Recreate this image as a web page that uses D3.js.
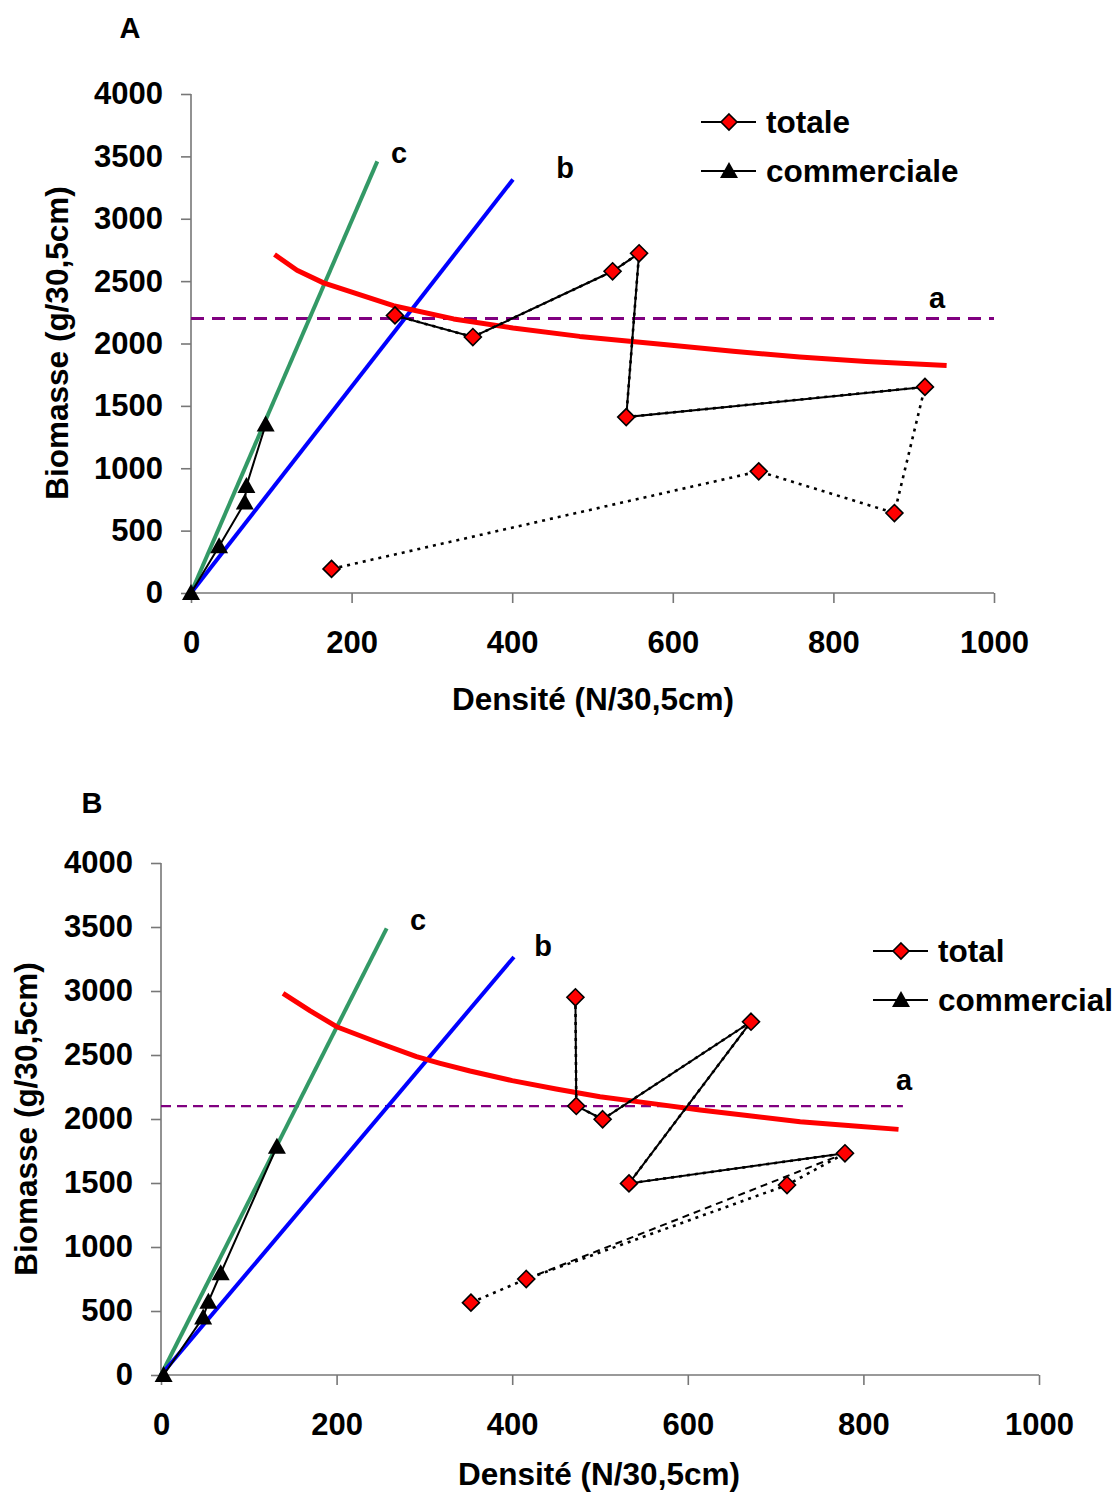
<!DOCTYPE html>
<html>
<head>
<meta charset="UTF-8">
<title>Biomasse / Densité</title>
<script src="https://cdn.jsdelivr.net/npm/d3@7"></script>
<style>
body { margin: 0; background: #fff; }
svg text { font-family: "Liberation Sans", Arial, sans-serif; font-weight: bold; fill: #000; }
</style>
</head>
<body>
<script>
// ---- data ----
var xTicks = [0, 200, 400, 600, 800, 1000];
var yTicks = [0, 500, 1000, 1500, 2000, 2500, 3000, 3500, 4000];

// panel A
var totA_x = [175, 707, 876, 914, 542, 558, 525, 351, 254];
var totA_y = [193, 975, 641, 1652, 1410, 2723, 2579, 2052, 2225];
var totA_solid = [3, 4, 5, 6, 7, 8];          // indices joined by the solid line
var comA_x = [0, 35, 67, 69, 93];
var comA_y = [0, 374, 725, 858, 1350];
var curveA_x = [104, 132, 165, 252, 327, 401, 484, 592, 675, 758, 841, 941];
var curveA_y = [2713, 2587, 2486, 2303, 2197, 2124, 2057, 1990, 1937, 1891, 1856, 1824];
var lineA_a = 2200;                 // horizontal line a
var lineA_b = [401, 3315];          // end of line b (from 0,0)
var lineA_c = [232, 3460];          // end of line c (from 0,0)

// panel B
var totB_x = [353, 416, 713, 779, 533, 672, 503, 473, 472];
var totB_y = [565, 750, 1484, 1732, 1497, 2760, 1998, 2102, 2951];
var totB_solid = [3, 4, 5, 6, 7, 8];
var totB_dash = [1, 3];
var comB_x = [3, 48, 54, 68, 132];
var comB_y = [0, 450, 573, 795, 1784];
var curveB_x = [139, 170, 200, 250, 291, 318, 352, 400, 450, 500, 560, 614, 670, 728, 790, 840];
var curveB_y = [2982, 2845, 2721, 2590, 2487, 2435, 2375, 2300, 2235, 2174, 2120, 2070, 2025, 1979, 1945, 1919];
var lineB_a = 2100;
var lineB_a_end = 845;
var lineB_b = [402, 3266];
var lineB_c = [257, 3490];

var svg = d3.select("body").append("svg")
    .attr("width", 1116)
    .attr("height", 1492);

function diamond(r){ return "M0," + (-r) + "L" + r + ",0L0," + r + "L" + (-r) + ",0Z"; }
function triangle(){ return "M0,-9L9,7L-9,7Z"; }

function draw_panel(p){
    var x = d3.scaleLinear().domain([0, 1000]).range([p.left, p.right]);
    var y = d3.scaleLinear().domain([0, 4000]).range([p.bottom, p.top]);
    var g = svg.append("g");

    // axes
    var ax = g.append("g").attr("transform", "translate(0," + p.bottom + ")")
        .call(d3.axisBottom(x).tickValues(xTicks).tickSize(10).tickPadding(28).tickFormat(d3.format("d")));
    var ay = g.append("g").attr("transform", "translate(" + p.left + ",0)")
        .call(d3.axisLeft(y).tickValues(yTicks).tickSize(10).tickPadding(18).tickFormat(d3.format("d")));
    [ax, ay].forEach(function(a){
        a.select(".domain").attr("stroke", "#777").attr("stroke-width", 1.6);
        a.selectAll(".tick line").attr("stroke", "#777").attr("stroke-width", 1.6);
        a.selectAll(".tick text").attr("font-size", 31).attr("font-family", null).attr("fill", "#000");
    });
    ax.selectAll(".domain").attr("d", "M" + p.left + ",0H" + p.right);
    ay.selectAll(".domain").attr("d", "M0," + p.bottom + "V" + p.top);

    // titles
    g.append("text").attr("x", p.xTitle[0]).attr("y", p.xTitle[1]).attr("dy", "0.35em")
        .attr("text-anchor", "middle").attr("font-size", 31.5).text("Densité (N/30,5cm)");
    g.append("text").attr("transform", "translate(" + p.yTitle[0] + "," + p.yTitle[1] + ") rotate(-90)")
        .attr("dy", "0.35em").attr("text-anchor", "middle").attr("font-size", 31.5).text("Biomasse (g/30,5cm)");
    g.append("text").attr("x", p.letter[0]).attr("y", p.letter[1]).attr("dy", "0.35em")
        .attr("text-anchor", "middle").attr("font-size", 29).text(p.name);

    // reference lines
    g.append("line").attr("x1", x(0)).attr("x2", x(p.aEnd)).attr("y1", y(p.a)).attr("y2", y(p.a))
        .attr("stroke", "#800080").attr("stroke-width", p.aWidth).attr("stroke-dasharray", p.aDash);
    g.append("line").attr("x1", x(0)).attr("y1", y(0)).attr("x2", x(p.c[0])).attr("y2", y(p.c[1]))
        .attr("stroke", "#339966").attr("stroke-width", 4);
    g.append("line").attr("x1", x(0)).attr("y1", y(0)).attr("x2", x(p.b[0])).attr("y2", y(p.b[1]))
        .attr("stroke", "#0000ff").attr("stroke-width", 4);

    var line = d3.line().x(function(d){ return x(d[0]); }).y(function(d){ return y(d[1]); });
    var curve = p.cx.map(function(v, i){ return [v, p.cy[i]]; });
    g.append("path").attr("d", line(curve)).attr("fill", "none")
        .attr("stroke", "#ff0000").attr("stroke-width", 5).attr("stroke-linejoin", "round");

    // series
    var tot = p.tx.map(function(v, i){ return [v, p.ty[i]]; });
    var com = p.mx.map(function(v, i){ return [v, p.my[i]]; });
    g.append("path").attr("d", line(tot)).attr("fill", "none")
        .attr("stroke", "#000").attr("stroke-width", 2.6).attr("stroke-dasharray", "3,5");
    if(p.dash){
        g.append("path").attr("d", line(p.dash.map(function(i){ return tot[i]; }))).attr("fill", "none")
            .attr("stroke", "#000").attr("stroke-width", 2).attr("stroke-dasharray", "7,5");
    }
    g.append("path").attr("d", line(p.solid.map(function(i){ return tot[i]; }))).attr("fill", "none")
        .attr("stroke", "#000").attr("stroke-width", 2);
    g.append("path").attr("d", line(com)).attr("fill", "none")
        .attr("stroke", "#000").attr("stroke-width", 2);

    g.selectAll(".tri").data(com).enter().append("path")
        .attr("transform", function(d){ return "translate(" + x(d[0]) + "," + y(d[1]) + ")"; })
        .attr("d", triangle()).attr("fill", "#000");
    g.selectAll(".dia").data(tot).enter().append("path")
        .attr("transform", function(d){ return "translate(" + x(d[0]) + "," + y(d[1]) + ")"; })
        .attr("d", diamond(8.5)).attr("fill", "#ff0000").attr("stroke", "#000").attr("stroke-width", 1.6);

    // line labels
    p.labels.forEach(function(l){
        g.append("text").attr("x", l[1]).attr("y", l[2]).attr("dy", "0.35em")
            .attr("text-anchor", "middle").attr("font-size", 29).text(l[0]);
    });

    // legend
    var lg = g.append("g").attr("transform", "translate(" + p.legend[0] + "," + p.legend[1] + ")");
    [[p.legendNames[0], 0], [p.legendNames[1], 1]].forEach(function(e){
        var yy = e[1] * p.legendGap;
        lg.append("line").attr("x1", 0).attr("x2", 55).attr("y1", yy).attr("y2", yy)
            .attr("stroke", "#000").attr("stroke-width", 2);
        if(e[1] == 0){
            lg.append("path").attr("transform", "translate(28," + yy + ")").attr("d", diamond(8))
                .attr("fill", "#ff0000").attr("stroke", "#000").attr("stroke-width", 1.6);
        }else{
            lg.append("path").attr("transform", "translate(28," + yy + ")").attr("d", triangle()).attr("fill", "#000");
        }
        lg.append("text").attr("x", 65).attr("y", yy).attr("dy", "0.35em").attr("font-size", 31.5).text(e[0]);
    });
}

draw_panel({
    name: "A", letter: [130, 28],
    left: 191, right: 994, top: 94, bottom: 593,
    xTitle: [593, 699], yTitle: [57, 343],
    tx: totA_x, ty: totA_y, solid: totA_solid, dash: null,
    mx: comA_x, my: comA_y, cx: curveA_x, cy: curveA_y,
    a: lineA_a, aEnd: 1000, aWidth: 3, aDash: "13,8", b: lineA_b, c: lineA_c,
    labels: [["c", 399, 153], ["b", 565, 168], ["a", 937, 298]],
    legend: [701, 122], legendGap: 49, legendNames: ["totale", "commerciale"]
});

draw_panel({
    name: "B", letter: [92, 803],
    left: 161, right: 1039, top: 863, bottom: 1375,
    xTitle: [599, 1474], yTitle: [26, 1119],
    tx: totB_x, ty: totB_y, solid: totB_solid, dash: totB_dash,
    mx: comB_x, my: comB_y, cx: curveB_x, cy: curveB_y,
    a: lineB_a, aEnd: lineB_a_end, aWidth: 2.2, aDash: "10,6", b: lineB_b, c: lineB_c,
    labels: [["c", 418, 920], ["b", 543, 946], ["a", 904, 1080]],
    legend: [873, 951], legendGap: 49, legendNames: ["total", "commercial"]
});
</script>
</body>
</html>
